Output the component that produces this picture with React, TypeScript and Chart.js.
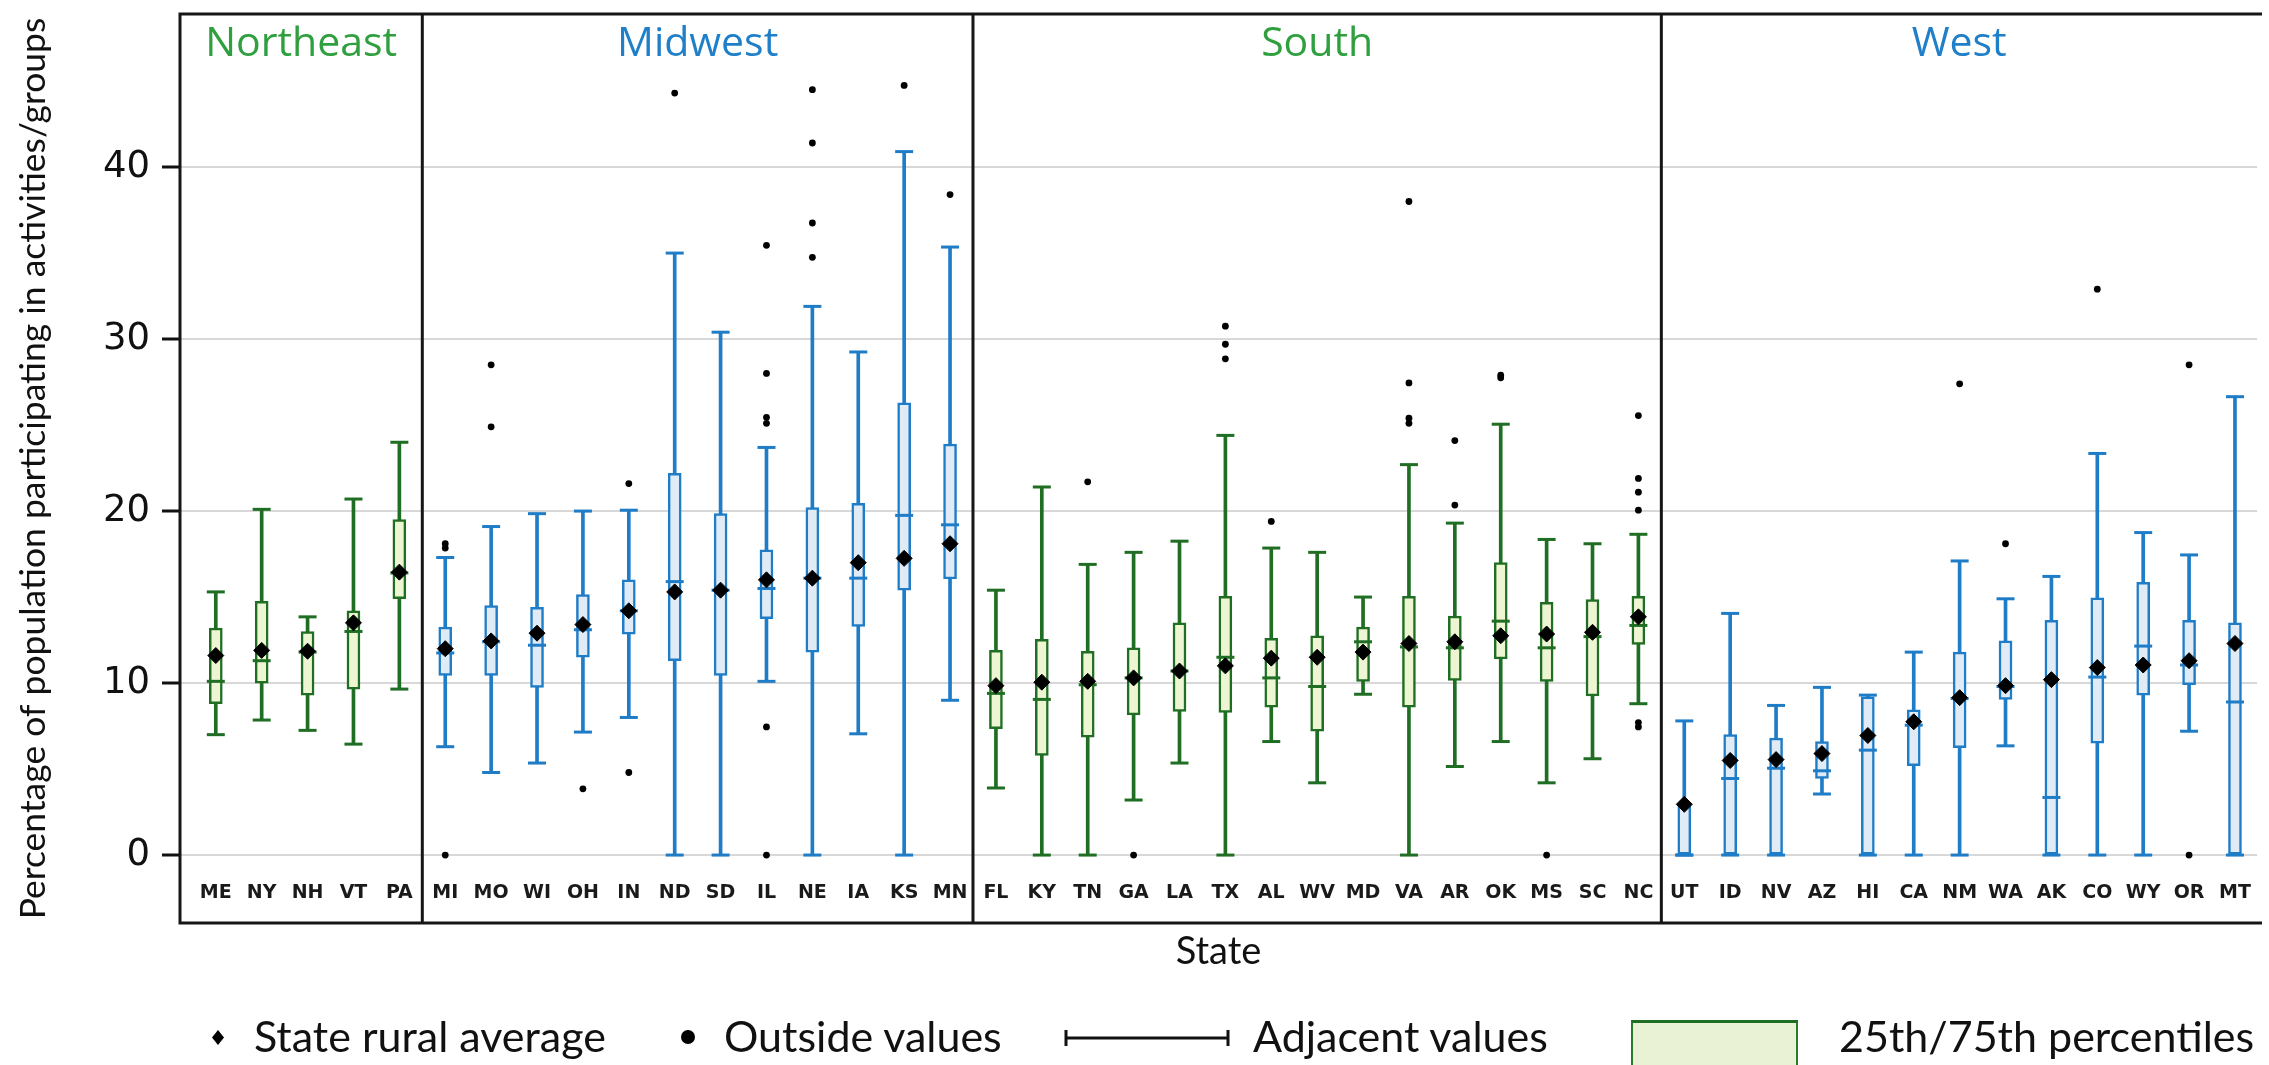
import React, { useEffect, useRef } from 'react';
import { Chart, registerables } from 'chart.js';

Chart.register(...registerables);

const W = 2269;
const H = 1065;

const regionNames = ['Northeast', 'Midwest', 'South', 'West'];
const regionSizes = [5, 12, 15, 13];
const regionIsGreen = [true, false, true, false];

const states = [
  'ME', 'NY', 'NH', 'VT', 'PA',
  'MI', 'MO', 'WI', 'OH', 'IN', 'ND', 'SD', 'IL', 'NE', 'IA', 'KS', 'MN',
  'FL', 'KY', 'TN', 'GA', 'LA', 'TX', 'AL', 'WV', 'MD', 'VA', 'AR', 'OK', 'MS', 'SC', 'NC',
  'UT', 'ID', 'NV', 'AZ', 'HI', 'CA', 'NM', 'WA', 'AK', 'CO', 'WY', 'OR', 'MT',
];

const lowWhisker = [
  7.0, 7.85, 7.25, 6.45, 9.65,
  6.3, 4.8, 5.35, 7.15, 8.0, 0, 0, 10.1, 0, 7.05, 0, 9.0,
  3.9, 0, 0, 3.2, 5.35, 0, 6.6, 4.2, 9.35, 0, 5.15, 6.6, 4.2, 5.6, 8.8,
  0, 0, 0, 3.55, 0, 0, 0, 6.35, 0, 0, 0, 7.2, 0,
];
const q1 = [
  8.8, 10.0, 9.3, 9.65, 14.9,
  10.45, 10.45, 9.75, 11.5, 12.85, 11.3, 10.45, 13.75, 11.8, 13.3, 15.4, 16.05,
  7.35, 5.8, 6.85, 8.15, 8.35, 8.3, 8.6, 7.2, 10.1, 8.6, 10.15, 11.4, 10.1, 9.25, 12.25,
  0, 0, 0, 4.45, 0, 5.2, 6.25, 9.05, 0, 6.5, 9.3, 9.9, 0,
];
const median = [
  10.1, 11.3, 11.8, 13.0, 16.4,
  11.75, 12.4, 12.2, 13.1, 14.2, 15.9, 15.4, 15.5, 16.1, 16.1, 19.75, 19.2,
  9.4, 9.05, 9.9, 10.3, 10.7, 11.5, 10.3, 9.8, 12.4, 12.1, 12.05, 13.6, 12.05, 12.7, 13.35,
  0, 4.45, 5.05, 4.9, 6.1, 7.55, 9.1, 9.8, 3.35, 10.35, 12.15, 11.05, 8.9,
];
const q3 = [
  13.2, 14.75, 13.0, 14.2, 19.5,
  13.25, 14.5, 14.4, 15.15, 16.0, 22.2, 19.85, 17.75, 20.2, 20.45, 26.3, 23.9,
  11.9, 12.55, 11.85, 12.05, 13.5, 15.05, 12.6, 12.75, 13.25, 15.05, 13.9, 17.0, 14.7, 14.85, 15.05,
  2.9, 7.0, 6.8, 6.6, 9.2, 8.45, 11.8, 12.45, 13.65, 14.95, 15.85, 13.65, 13.5,
];
const highWhisker = [
  15.3, 20.1, 13.85, 20.7, 24.0,
  17.3, 19.1, 19.85, 20.0, 20.05, 35.0, 30.4, 23.7, 31.9, 29.25, 40.9, 35.35,
  15.4, 21.4, 16.9, 17.6, 18.25, 24.4, 17.85, 17.6, 15.0, 22.7, 19.3, 25.05, 18.35, 18.1, 18.65,
  7.8, 14.05, 8.7, 9.75, 9.3, 11.8, 17.1, 14.9, 16.2, 23.35, 18.75, 17.45, 26.65,
];
const stateMean = [
  11.6, 11.9, 11.85, 13.5, 16.45,
  12.0, 12.45, 12.9, 13.4, 14.2, 15.3, 15.4, 16.0, 16.1, 17.0, 17.25, 18.1,
  9.85, 10.05, 10.1, 10.3, 10.7, 11.0, 11.45, 11.5, 11.8, 12.3, 12.4, 12.75, 12.85, 12.95, 13.85,
  2.95, 5.5, 5.55, 5.9, 6.95, 7.75, 9.15, 9.85, 10.2, 10.9, 11.05, 11.3, 12.3,
];
const outsideValues: number[][] = [
  [], [], [], [], [],
  [0, 17.85, 18.1], [24.9, 28.5], [], [3.85], [4.8, 21.6], [44.3], [], [0, 7.45, 25.1, 25.45, 28.0, 35.45],
  [34.75, 36.75, 41.4, 44.5], [], [44.75], [38.4],
  [], [], [21.7], [0], [], [28.85, 29.7, 30.75], [19.4], [], [], [25.1, 25.4, 27.45, 38.0], [20.35, 24.1],
  [27.75, 27.9], [0], [], [7.45, 7.7, 20.05, 21.1, 21.9, 25.55],
  [], [], [], [], [], [], [27.4], [18.1], [], [32.9], [], [0, 28.5], [],
];
const yTicks = [0, 10, 20, 30, 40];

const GREEN_STROKE = '#1f6e23';
const GREEN_FILL = '#edf5d3';
const BLUE_STROKE = '#1f7cc6';
const BLUE_FILL = '#e1ebf6';
const GREEN_TITLE = '#2f9f3f';
const BLUE_TITLE = '#1f7fc8';

const regionBounds = (xMin: number, xMax: number) => {
  const b = [xMin];
  let acc = 0;
  regionSizes.forEach((n) => {
    acc += n;
    b.push(acc - 0.5);
  });
  b[b.length - 1] = xMax;
  return b;
};

const panelPlugin = {
  id: 'panels',
  afterDraw(chart: any) {
    const { ctx, chartArea, scales } = chart;
    const xs = scales.x;
    const { left, right, top, bottom } = chartArea;
    const bounds = regionBounds(xs.min, xs.max);
    ctx.save();
    ctx.strokeStyle = '#161616';
    ctx.lineWidth = 3;
    ctx.beginPath();
    ctx.moveTo(left - 1.5, top);
    ctx.lineTo(right + 5, top);
    ctx.moveTo(left, top);
    ctx.lineTo(left, bottom);
    ctx.moveTo(left - 1.5, bottom);
    ctx.lineTo(right + 5, bottom);
    for (let r = 1; r < regionSizes.length; r++) {
      const px = xs.getPixelForValue(bounds[r]);
      ctx.moveTo(px, top);
      ctx.lineTo(px, bottom);
    }
    ctx.stroke();
    ctx.font = '41px "Open Sans"';
    ctx.textAlign = 'center';
    ctx.textBaseline = 'middle';
    regionNames.forEach((name, r) => {
      const cx = (xs.getPixelForValue(bounds[r]) + xs.getPixelForValue(bounds[r + 1])) / 2;
      ctx.fillStyle = regionIsGreen[r] ? GREEN_TITLE : BLUE_TITLE;
      ctx.fillText(name, cx, top + 30);
    });
    ctx.restore();
  },
};

export default function App() {
  const ref = useRef<HTMLCanvasElement>(null);

  useEffect(() => {
    const regionOf = states.map((_, i) => {
      let acc = 0;
      for (let r = 0; r < regionSizes.length; r++) {
        acc += regionSizes[r];
        if (i < acc) return r;
      }
      return regionSizes.length - 1;
    });
    const stroke = states.map((_, i) => (regionIsGreen[regionOf[i]] ? GREEN_STROKE : BLUE_STROKE));
    const fill = states.map((_, i) => (regionIsGreen[regionOf[i]] ? GREEN_FILL : BLUE_FILL));

    const capPoints: { x: number; y: number }[] = [];
    const capColors: string[] = [];
    states.forEach((_, i) => {
      capPoints.push({ x: i, y: lowWhisker[i] });
      capColors.push(stroke[i]);
      capPoints.push({ x: i, y: highWhisker[i] });
      capColors.push(stroke[i]);
    });
    const outPoints: { x: number; y: number }[] = [];
    outsideValues.forEach((vals, i) => vals.forEach((v) => outPoints.push({ x: i, y: v })));

    const chart = new Chart(ref.current as HTMLCanvasElement, {
      type: 'scatter',
      data: {
        datasets: [
          {
            type: 'bar',
            label: 'Adjacent values',
            data: states.map((_, i) => ({ x: i, y: [lowWhisker[i], highWhisker[i]] })) as any,
            backgroundColor: stroke,
            borderWidth: 0,
            barThickness: 3,
            grouped: false,
            order: 6,
          } as any,
          {
            type: 'bar',
            label: '25th/75th percentiles',
            data: states.map((_, i) => ({ x: i, y: [q1[i], q3[i]] })) as any,
            backgroundColor: fill,
            borderColor: stroke,
            borderWidth: 2.5,
            borderSkipped: false,
            barThickness: 13,
            grouped: false,
            order: 5,
          } as any,
          {
            label: 'caps',
            data: capPoints,
            pointStyle: 'line',
            pointRadius: 9,
            pointBorderWidth: 3,
            pointBorderColor: capColors,
            showLine: false,
            order: 4,
          } as any,
          {
            label: 'Median',
            data: states.map((_, i) => ({ x: i, y: median[i] })),
            pointStyle: 'line',
            pointRadius: 9,
            pointBorderWidth: 3,
            pointBorderColor: stroke,
            showLine: false,
            order: 3,
          } as any,
          {
            label: 'State rural average',
            data: states.map((_, i) => ({ x: i, y: stateMean[i] })),
            pointStyle: 'rectRot',
            pointRadius: 8,
            pointBackgroundColor: '#000',
            pointBorderColor: '#000',
            pointBorderWidth: 1,
            showLine: false,
            order: 2,
          } as any,
          {
            label: 'Outside values',
            data: outPoints,
            pointStyle: 'circle',
            pointRadius: 3.4,
            pointBackgroundColor: '#000',
            pointBorderColor: '#000',
            pointBorderWidth: 0,
            showLine: false,
            order: 1,
          } as any,
        ],
      },
      options: {
        responsive: false,
        animation: false,
        events: [],
        layout: { padding: { top: 14, left: 0, right: 0, bottom: 82 } },
        plugins: {
          legend: { display: false },
          tooltip: { enabled: false },
        },
        scales: {
          x: {
            type: 'linear',
            min: -0.78,
            max: 44.48,
            offset: false,
            afterBuildTicks: (axis: any) => {
              axis.ticks = states.map((_, i) => ({ value: i }));
            },
            afterFit: (axis: any) => {
              axis.height = 60;
              axis.paddingLeft = 0;
              axis.paddingRight = 0;
            },
            grid: { display: false, drawTicks: false },
            border: { display: false },
            ticks: {
              autoSkip: false,
              maxRotation: 0,
              minRotation: 0,
              mirror: true,
              padding: 18.6,
              color: '#1a1a1a',
              font: { family: '"DejaVu Sans", sans-serif', size: 19, weight: 'bold' },
              callback: (v: any) => states[Math.round(Number(v))] ?? '',
            },
            title: {
              display: true,
              text: 'State',
              color: '#111',
              font: { family: 'Lato, sans-serif', size: 38 },
              padding: { top: 0, bottom: 8 },
            },
          },
          y: {
            type: 'linear',
            min: -3.95,
            max: 48.9,
            afterBuildTicks: (axis: any) => {
              axis.ticks = yTicks.map((v) => ({ value: v }));
            },
            afterFit: (axis: any) => {
              axis.width = 180;
              axis.paddingTop = 0;
              axis.paddingBottom = 0;
            },
            grid: {
              color: '#d8d8d8',
              lineWidth: 2,
              drawTicks: true,
              tickLength: 18,
              tickColor: '#111',
              tickWidth: 3,
            },
            border: { display: false },
            ticks: {
              padding: 12,
              color: '#111',
              font: { family: '"DejaVu Sans", sans-serif', size: 37 },
            },
            title: {
              display: true,
              text: 'Percentage of population participating in activities/groups',
              color: '#111',
              font: { family: 'Lato, sans-serif', size: 35.5 },
              padding: { top: 12, bottom: 0 },
            },
          },
        },
      } as any,
      plugins: [panelPlugin],
    });
    return () => chart.destroy();
  }, []);

  const textStyle: React.CSSProperties = {
    position: 'absolute',
    top: 1014,
    fontFamily: 'Lato, sans-serif',
    fontSize: 43,
    lineHeight: '43px',
    color: '#111',
    whiteSpace: 'nowrap',
  };

  return (
    <div
      style={{
        position: 'absolute',
        left: 0,
        top: 0,
        width: W,
        height: H,
        background: '#fff',
        overflow: 'hidden',
      }}
    >
      <canvas ref={ref} width={W} height={H} style={{ display: 'block', width: W, height: H }} />
      <svg style={{ position: 'absolute', left: 212, top: 1030 }} width={12} height={15}>
        <polygon points="6,0 12,7.5 6,15 0,7.5" fill="#000" />
      </svg>
      <span style={{ ...textStyle, left: 254 }}>State rural average</span>
      <div
        style={{
          position: 'absolute',
          left: 681,
          top: 1030,
          width: 14,
          height: 14,
          borderRadius: '50%',
          background: '#000',
        }}
      />
      <span style={{ ...textStyle, left: 724 }}>Outside values</span>
      <svg style={{ position: 'absolute', left: 1064, top: 1028 }} width={166} height={20}>
        <line x1={2} y1={10} x2={164} y2={10} stroke="#111" strokeWidth={3} />
        <line x1={2} y1={2} x2={2} y2={18} stroke="#111" strokeWidth={3} />
        <line x1={164} y1={2} x2={164} y2={18} stroke="#111" strokeWidth={3} />
      </svg>
      <span style={{ ...textStyle, left: 1253 }}>Adjacent values</span>
      <div
        style={{
          position: 'absolute',
          left: 1631,
          top: 1020,
          width: 163,
          height: 60,
          background: '#e9f2d5',
          borderTop: '3px solid #1f6e23',
          borderLeft: '2px solid #2a7a2a',
          borderRight: '2px solid #2a7a2a',
        }}
      />
      <span style={{ ...textStyle, left: 1839 }}>25th/75th percentiles</span>
    </div>
  );
}
